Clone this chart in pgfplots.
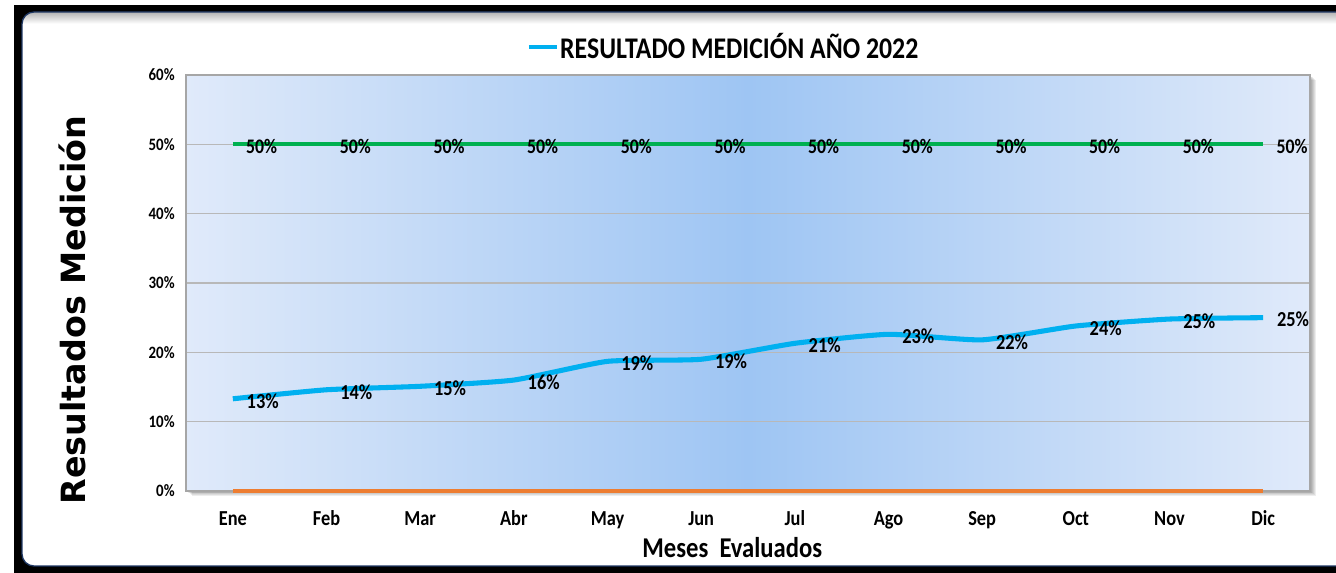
\documentclass[border=0pt]{standalone}
\usepackage{pgfplots}
\usepackage{pgfplotstable}
\pgfplotsset{compat=1.18}
\usepackage{fontspec}
\setmainfont{Carlito}
\newfontfamily\cb[FakeStretch=0.86]{Carlito}
\newfontfamily\dvb{DejaVu Sans}
\definecolor{lblue}{RGB}{0,176,240}
\definecolor{lgreen}{RGB}{0,176,80}
\definecolor{lorange}{RGB}{237,125,49}
\definecolor{navy}{RGB}{31,56,100}
\definecolor{bgin}{RGB}{158,197,243}
\definecolor{bgout}{RGB}{224,234,250}

\pgfplotstableread{
x y lab
0 13.3 13
1 14.6 14
2 15.1 15
3 16.0 16
4 18.7 19
5 19.0 19
6 21.3 21
7 22.6 23
8 21.8 22
9 23.8 24
10 24.8 25
11 25.0 25
}\datblue

\pgfplotstableread{
x y lab
0 50 50
1 50 50
2 50 50
3 50 50
4 50 50
5 50 50
6 50 50
7 50 50
8 50 50
9 50 50
10 50 50
11 50 50
}\datgreen

\pgfplotstableread{
x y
0 0
1 0
2 0
3 0
4 0
5 0
6 0
7 0
8 0
9 0
10 0
11 0
}\datorange

\begin{document}
\begin{tikzpicture}
\useasboundingbox (0,0) rectangle (1002pt,429.75pt);
\begin{scope}
\clip (0,0) rectangle (1002pt,429.75pt);
\fill[black] (10.5pt,0pt) rectangle (1010pt,426pt);
\begin{scope}
\clip[rounded corners=9pt] (16.5pt,5.25pt) rectangle (1015pt,420.75pt);
\fill[white] (16.5pt,5.25pt) rectangle (1015pt,420.75pt);
\shade[top color=black!30, bottom color=white] (16.5pt,412pt) rectangle (1015pt,420.75pt);
\end{scope}
\draw[navy, line width=1pt, rounded corners=9pt] (16.5pt,5.25pt) rectangle (1015pt,420.75pt);
\end{scope}
\foreach \i in {1,...,6}
  \fill[black, opacity=0.07] ({139.5pt+\i*0.8pt},{61.5pt-\i*0.6pt}) rectangle ({982.5pt+\i*0.8pt},{373.5pt-\i*0.6pt});
\begin{axis}[
  at={(139.5pt,61.5pt)}, anchor=south west,
  scale only axis, width=843pt, height=312pt,
  xmin=-0.5, xmax=11.5, ymin=0, ymax=60,
  xtick={0,...,11},
  xticklabels={Ene,Feb,Mar,Abr,May,Jun,Jul,Ago,Sep,Oct,Nov,Dic},
  ytick={0,10,...,60},
  yticklabel={\pgfmathprintnumber[assume math mode=true]{\tick}\%},
  major tick length=0pt,
  ymajorgrids,
  grid style={draw=black!28, line width=0.8pt},
  axis line style={draw=black!35, line width=0.8pt},
  yticklabel style={font=\cb\bfseries\fontsize{13}{15}\selectfont, xshift=-5pt},
  xticklabel style={font=\cb\bfseries\fontsize{16}{18}\selectfont, anchor=north, text height=11pt, text depth=0pt, yshift=-11pt},
  axis background/.style={left color=bgout, right color=bgout, middle color=bgin},
  clip=false,
  xlabel={Meses\ \ Evaluados},
  xlabel style={font=\cb\bfseries\fontsize{21.5}{24}\selectfont, at={(axis description cs:0.486,-0.137)}, anchor=center},
  ylabel={Resultados Medición},
  ylabel style={font=\dvb\bfseries\fontsize{25}{28}\selectfont, at={(axis description cs:-0.101,0.435)}, anchor=center},
  legend style={at={(axis description cs:0.478,1.067)}, anchor=center, draw=none, fill=none,
    font=\cb\bfseries\fontsize{22.5}{26}\selectfont, nodes={inner sep=1pt}},
  legend image code/.code={\draw[lblue, line width=3pt] (0pt,0pt) -- (21pt,0pt);},
]
\addplot[lblue, line width=3.8pt, smooth, tension=0.3, no markers,
  nodes near coords={\pgfplotspointmeta\%}, point meta=explicit symbolic,
  every node near coord/.append style={anchor=west, xshift=8.5pt, yshift=-1.5pt, inner sep=0pt, text=black,
    font=\cb\bfseries\fontsize{16}{18}\selectfont}]
  table[x=x, y=y, meta=lab]{\datblue};
\addlegendentry{RESULTADO MEDICIÓN AÑO 2022}
\addplot[lgreen, line width=3pt, no markers, forget plot,
  nodes near coords={\pgfplotspointmeta\%}, point meta=explicit symbolic,
  every node near coord/.append style={anchor=west, xshift=8.5pt, yshift=-1.5pt, inner sep=0pt, text=black,
    font=\cb\bfseries\fontsize{15.5}{18}\selectfont}]
  table[x=x, y=y, meta=lab]{\datgreen};
\addplot[lorange, line width=2.4pt, no markers, forget plot] table[x=x, y=y]{\datorange};
\end{axis}
\end{tikzpicture}
\end{document}
